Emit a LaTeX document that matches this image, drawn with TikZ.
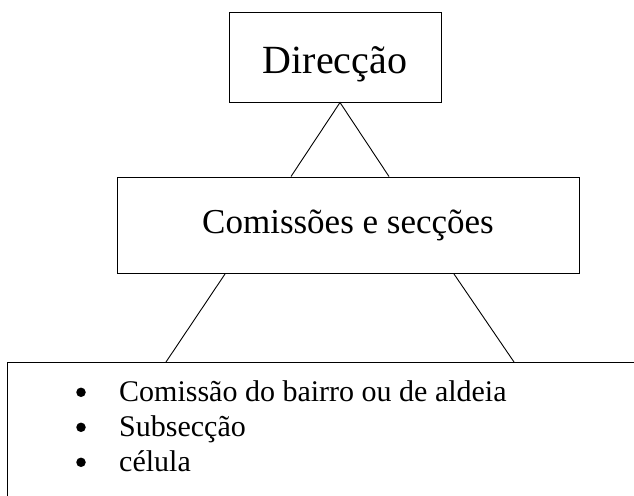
\documentclass[tikz,border=0pt]{standalone}
\usepackage{fontspec}
\setmainfont{Liberation Serif}
\usetikzlibrary{calc}
\tikzset{
  boxnode/.style={draw=black, line width=1pt, rectangle, inner sep=0pt, fill=white},
  conn/.style={draw=black, line width=0.9pt},
  itemtext/.style={anchor=base west, inner sep=0pt, font=\fontsize{30}{35}\selectfont},
  bulletmark/.style={circle, fill=black, inner sep=0pt, minimum size=9.5pt}
}
\begin{document}
\begin{tikzpicture}[x=1pt,y=-1pt]
\useasboundingbox (0,0) rectangle (634,495);
\node[boxnode, minimum width=212pt, minimum height=89pt, text height=33pt, text depth=0pt,
      font=\fontsize{40}{48}\selectfont] (top) at (335,57.5) {Direcção};
\node[boxnode, minimum width=462pt, minimum height=96.5pt, text height=16.5pt, text depth=0pt,
      font=\fontsize{35}{42}\selectfont] (mid) at (348,225.25) {Comissões e secções};
\node[boxnode, minimum width=643pt, minimum height=147.5pt] (low) at (328.5,436.25) {};
\coordinate (apex) at ($(top.south)+(5,0)$);
\draw[conn] ($(mid.north)+(-57,0)$) -- (apex) -- ($(mid.north)+(41,0)$);
\draw[conn] ($(mid.south)+(-123,0)$) -- ($(low.north)+(-162.5,0)$);
\draw[conn] ($(mid.south)+(106,0)$) -- ($(low.north)+(185.5,0)$);
\node[bulletmark] (b1) at (81,392.3) {};
\node[bulletmark] (b2) at (81,427.3) {};
\node[bulletmark] (b3) at (81,462.3) {};
\node[itemtext] (t1) at (119,401.7) {Comissão do bairro ou de aldeia};
\node[itemtext] (t2) at (119,436.7) {Subsecção};
\node[itemtext] (t3) at (119,471.7) {célula};
\end{tikzpicture}
\end{document}
